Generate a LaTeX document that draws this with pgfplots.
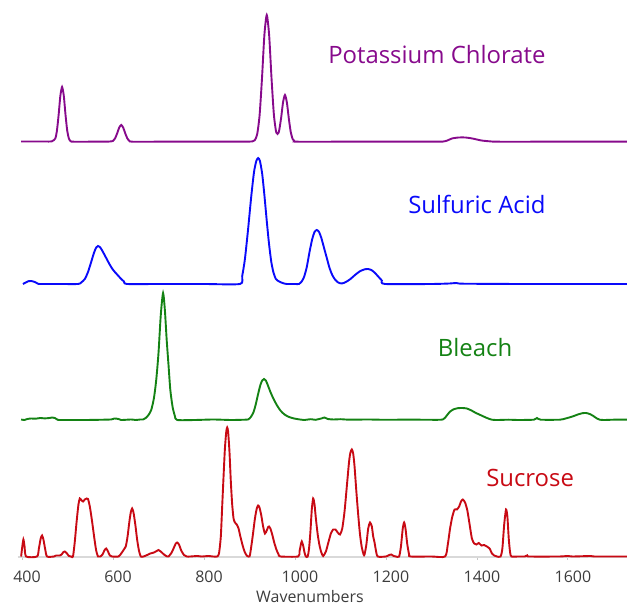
\documentclass[border=0pt]{standalone}
\usepackage{pgfplots}
\pgfplotsset{compat=1.18}
\usepackage{pgfplotstable}
\usepackage{fontspec}
\setmainfont{Open Sans}
\definecolor{cpurple}{RGB}{135,10,140}
\definecolor{cblue}{RGB}{10,10,250}
\definecolor{cgreen}{RGB}{20,130,20}
\definecolor{cred}{RGB}{200,10,20}
\definecolor{ctext}{RGB}{60,60,60}

\pgfplotstableread[row sep=\\]{
x y\\
398 0.5\\ 420 0.5\\ 450 0.5\\ 465 0.6\\ 473 3.4\\ 476.75 11.6\\ 480.5 27.5\\ 484.25 46.3\\ 488 55\\ 491.75 46.3\\ 495.5 27.5\\ 499.25 11.6\\ 503 3.4\\ 507 0.8\\ 512 0.3\\ 550 0.3\\ 590 0.4\\
600 1.1\\ 604.5 3.6\\ 609 8.5\\ 613.5 14.3\\ 618 17\\ 622.5 14.3\\ 627 8.5\\ 631.5 3.6\\ 636 1.1\\ 642 0.3\\ 700 0.3\\ 800 0.3\\ 880 0.3\\ 900 0.4\\
906.5 0.6\\ 911.75 1.8\\ 917 7.9\\ 922.25 26.7\\ 927.5 63.5\\ 932.75 106.8\\ 938 127\\ 943.25 106.8\\ 948.5 63.5\\ 953.75 26.9\\ 959 9.4\\ 964.25 9.4\\ 969.5 23.8\\ 973.75 39.5\\ 978 47\\ 982.25 39.5\\ 986.5 23.5\\ 990.75 9.9\\ 995 2.9\\ 999 0.8\\ 1005 0.3\\
1100 0.3\\ 1200 0.3\\ 1300 0.3\\ 1325 0.4\\ 1335 1.5\\ 1345 3.5\\ 1360 4.5\\ 1375 4.5\\ 1390 3.5\\ 1410 1.5\\ 1430 0.6\\ 1445 0.3\\ 1550 0.3\\ 1650 0.3\\ 1730 0.3\\
}\tabP

\pgfplotstableread[row sep=\\]{
x y\\
402 0\\ 408 1.5\\ 414 2.8\\ 420 3\\ 428 2\\ 435 0.3\\ 440 0\\ 480 0\\ 523 0\\ 530 1.5\\ 538 5\\ 545 12\\ 552 22\\ 558 31\\ 563 36.5\\ 567 38\\ 572 36.5\\ 578 32\\ 585 26\\ 592 20\\ 598 15.5\\ 604 12\\ 610 9\\ 617 5.5\\ 624 2.5\\ 631 0\\
700 0\\ 800 0\\ 879 0\\ 884 8\\ 890 25\\ 897 55\\ 904 88\\ 910 112\\ 915 123\\ 919 126\\ 923 123\\ 928 110\\ 933 88\\ 938 63\\ 943 40\\ 948 22\\ 953 11\\ 958 5\\ 963 3\\ 970 1.5\\ 976 0.5\\ 982 0\\ 1000 0\\
1009 0\\ 1014 2\\ 1020 7\\ 1026 17\\ 1032 32\\ 1038 45\\ 1043 52\\ 1048 54\\ 1053 52\\ 1058 46\\ 1064 36\\ 1070 26\\ 1076 16\\ 1082 9\\ 1088 4.5\\ 1095 1.5\\ 1103 0.5\\
1112 2\\ 1122 5\\ 1132 9\\ 1142 12.5\\ 1152 14.5\\ 1160 15\\ 1168 14\\ 1176 11\\ 1184 7\\ 1191 3.5\\ 1198 0\\ 1300 0\\ 1340 0.5\\ 1355 1\\ 1370 0.3\\ 1500 0\\ 1600 0\\ 1730 0\\
}\tabB

\pgfplotstableread[row sep=\\]{
x y\\
398 0.5\\ 405 0\\ 412 1\\ 420 1.5\\ 430 1.3\\ 440 2\\ 450 1.6\\ 460 2\\ 466 2.5\\ 472 2\\ 478 0.3\\ 485 0\\ 540 0\\ 595 0.5\\ 603 1.5\\ 612 1\\ 618 0\\ 640 0.5\\ 650 0\\ 660 0.5\\
666 0.5\\ 672 2\\ 678 5\\ 684 10\\ 690 22\\ 695 40\\ 700 67\\ 705 105\\ 710 127\\ 714 110\\ 718 80\\ 722 55\\ 726 30\\ 731 13\\ 736 4\\ 741 0\\ 780 0\\ 820 0.5\\ 860 0\\ 890 0.3\\
897 0.5\\ 903 3\\ 909 8\\ 914 16\\ 919 26\\ 924 35\\ 928 39.5\\ 932 41\\ 936 39.5\\ 941 34\\ 947 27\\ 953 21\\ 960 15\\ 968 9.5\\ 977 5.5\\ 987 3\\ 998 1.5\\ 1011 0.5\\
1020 0\\ 1035 0.8\\ 1045 0.2\\ 1058 1.5\\ 1065 2.5\\ 1072 1\\ 1085 0.5\\ 1100 0.8\\ 1120 0.3\\ 1160 0.5\\ 1200 0.2\\ 1250 0.4\\ 1300 0.2\\
1325 0.5\\ 1333 4\\ 1340 8\\ 1348 10.5\\ 1358 11.8\\ 1368 12\\ 1378 11.5\\ 1388 9.5\\ 1398 7\\ 1410 4.5\\ 1422 2\\ 1433 0.3\\ 1445 0\\ 1470 0.3\\ 1490 0\\ 1525 0.3\\ 1532 2\\ 1540 0.3\\
1582 0.3\\ 1595 1.5\\ 1610 3.5\\ 1622 5.5\\ 1632 6.8\\ 1640 7\\ 1648 6\\ 1656 4\\ 1664 1.5\\ 1670 0.3\\ 1680 0\\ 1700 0.3\\ 1730 0.3\\
}\tabG

\pgfplotstableread[row sep=\\]{
x y\\
398 0\\ 400 8\\ 403 17\\ 405.5 10\\ 409 0\\ 433 0\\ 437 8\\ 441 18\\ 444 21\\ 447 17\\ 451 7\\ 455 0\\ 470 0\\ 475 1\\ 483 1\\ 487 2\\ 491 4.5\\ 494 5\\ 498 3.5\\ 503 0.5\\ 508 0\\
512 0\\ 516 15\\ 520 35\\ 524 52\\ 527 58\\ 531 56\\ 534 55\\ 538 57\\ 542 58\\ 545 57.5\\ 549 50\\ 554 35\\ 559 18\\ 563 6\\ 567 0\\
572 0\\ 577 2\\ 581 6\\ 585 8\\ 589 5\\ 593 1\\ 598 0\\ 612 0\\ 618 3\\ 624 7\\ 628 10\\ 632 20\\ 636 35\\ 639 44\\ 642 48\\ 645 44\\ 649 32\\ 653 17\\ 657 6\\ 661 0\\
667 0\\ 675 1.5\\ 682 3\\ 690 4\\ 696 5.5\\ 700 6.5\\ 705 5\\ 712 2\\ 719 0\\ 722 0\\ 724 1\\ 729 4\\ 734 9\\ 738 13\\ 741 14\\ 745 12\\ 750 6\\ 756 1.5\\ 762 0\\ 770 0\\ 785 0.5\\ 795 0\\ 810 0.5\\ 820 0\\
829 0\\ 833 3\\ 837 20\\ 840 50\\ 843 80\\ 846 108\\ 849 125\\ 851 129\\ 853 125\\ 856 105\\ 859 75\\ 862 52\\ 865 38\\ 868 34\\ 872 32\\ 876 28\\ 880 20\\ 885 11\\ 890 4\\ 895 0.5\\ 900 0\\
902 4\\ 907 20\\ 912 38\\ 916 48\\ 919 51\\ 922 49\\ 926 41\\ 930 30\\ 934 23\\ 938 26\\ 941 29.5\\ 943 30\\ 946 28\\ 950 22\\ 955 13\\ 960 6\\ 964 2\\ 968 0\\ 1007 0\\
1010 5\\ 1013 12\\ 1015 15\\ 1018 11\\ 1021 4\\ 1024 0\\ 1028 0\\ 1031 8\\ 1034 25\\ 1037 47\\ 1040 58\\ 1043 52\\ 1046 38\\ 1050 22\\ 1054 11\\ 1058 4\\ 1062 0.5\\
1068 5\\ 1074 15\\ 1079 23\\ 1084 27\\ 1089 27\\ 1094 24\\ 1099 22\\ 1104 28\\ 1109 45\\ 1114 70\\ 1119 95\\ 1122 104\\ 1125 107\\ 1128 103\\ 1131 90\\ 1135 65\\ 1139 42\\ 1143 22\\ 1147 9\\ 1151 2\\
1153 2\\ 1157 12\\ 1161 28\\ 1165 34\\ 1169 30\\ 1172 20\\ 1175 14\\ 1178 6\\ 1182 0\\ 1200 0\\ 1207 1.5\\ 1212 2\\ 1217 0.5\\ 1222 0\\
1229 0\\ 1233 10\\ 1237 28\\ 1240 34\\ 1243 28\\ 1247 12\\ 1251 2\\ 1254 0\\ 1300 0\\
1330 0\\ 1336 12\\ 1341 28\\ 1346 40\\ 1351 47\\ 1356 47\\ 1361 50\\ 1365 55\\ 1369 57\\ 1374 54\\ 1379 46\\ 1384 32\\ 1389 18\\ 1394 13\\ 1399 12\\ 1404 13.5\\ 1410 11\\ 1416 11.5\\ 1422 10\\ 1428 8\\ 1433 3\\ 1438 1\\ 1444 0\\
1452 0\\ 1456 8\\ 1460 32\\ 1464 47\\ 1467 40\\ 1470 18\\ 1473 4\\ 1476 0\\ 1490 0\\ 1505 0\\ 1510 1\\ 1515 0\\ 1580 0\\ 1600 0.5\\ 1610 0\\ 1650 0.5\\ 1660 0\\ 1730 0\\
}\tabR

\begin{document}
\begin{tikzpicture}
\useasboundingbox (0,0) rectangle (627bp,605bp);
\begin{axis}[
  scale only axis,
  width=609.5bp, height=557bp,
  anchor=south west, at={(17.5bp,48bp)},
  xmin=390, xmax=1730, ymin=0, ymax=557,
  axis x line=bottom, axis y line=none,
  x axis line style={-, draw=gray!30, line width=1.3pt},
  xtick={400,600,...,1600},
  tick align=outside, major tick length=2.5bp,
  xtick style={draw=gray!45, line width=0.8pt},
  xticklabel style={text=ctext, font=\fontsize{16}{18}\selectfont, xshift=5bp, yshift=-8bp},
  /pgf/number format/assume math mode=true,
  /pgf/number format/1000 sep={},
  clip=false,
  every axis plot/.append style={line width=1.9bp, smooth, tension=0.4},
]
\addplot[cpurple] table[x=x, y expr=\thisrow{y}+415] {\tabP};
\addplot[cblue] table[x=x, y expr=\thisrow{y}+273] {\tabB};
\addplot[cgreen] table[x=x, y expr=\thisrow{y}+137] {\tabG};
\addplot[cred] table[x=x, y expr=\thisrow{y}+0.5] {\tabR};
\node[text=cpurple, font=\fontsize{24}{28}\selectfont] at (axis cs:1312,502) {Potassium Chlorate};
\node[text=cblue, font=\fontsize{24}{28}\selectfont] at (axis cs:1400,353) {Sulfuric Acid};
\node[text=cgreen, font=\fontsize{24}{28}\selectfont] at (axis cs:1396,209) {Bleach};
\node[text=cred, font=\fontsize{24}{28}\selectfont] at (axis cs:1517,79) {Sucrose};
\node[text=ctext, font=\fontsize{16}{18}\selectfont, anchor=base, yshift=-45bp] at (axis cs:1033,0) {Wavenumbers};
\end{axis}
\end{tikzpicture}
\end{document}
